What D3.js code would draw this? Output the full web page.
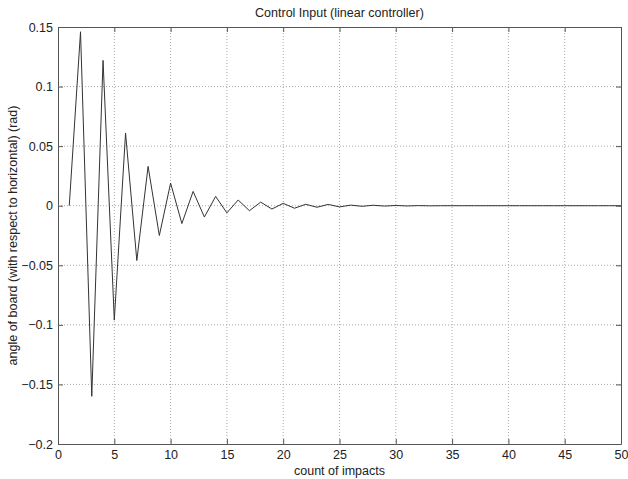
<!DOCTYPE html>
<html>
<head>
<meta charset="utf-8">
<script src="https://cdn.jsdelivr.net/npm/d3@7"></script>
<style>
  body { margin: 0; background: #fff; }
  text { font-family: "Liberation Sans", Arial, sans-serif; fill: #222; }
</style>
</head>
<body>
<svg id="chart"></svg>
<script>
// impact index and control angle (rad)
const impacts = d3.range(1, 51)
const angles = [
  0, 0.146, -0.160, 0.122, -0.096, 0.061, -0.046, 0.033, -0.025, 0.019,
  -0.015, 0.012, -0.0095, 0.0078, -0.006, 0.0048, -0.0042, 0.003, -0.0028, 0.002,
  -0.0021, 0.0012, -0.0013, 0.0011, -0.001, 0.0005, -0.0005, 0.0004, -0.0003, 0.0002,
  -0.0002, 0.0001, -0.0001, 0, 0, 0, 0, 0, 0, 0,
  0, 0, 0, 0, 0, 0, 0, 0, 0, 0
]
const xTicks = [0, 5, 10, 15, 20, 25, 30, 35, 40, 45, 50]
const yTicks = [-0.2, -0.15, -0.1, -0.05, 0, 0.05, 0.1, 0.15]

const fullWidth = 628
const fullHeight = 479
const margin = { top: 27, right: 7, bottom: 35, left: 58 }
const width = fullWidth - margin.left - margin.right
const height = fullHeight - margin.top - margin.bottom
const fontSize = '12.5px'

const data = impacts.map((x, i) => ({ x, y: angles[i] }))

const svg = d3.select('#chart')
  .attr('width', fullWidth)
  .attr('height', fullHeight)

const g = svg.append('g')
  .attr('transform', `translate(${margin.left}, ${margin.top})`)

const xScale = d3.scaleLinear().domain([0, 50]).range([0, width])
const yScale = d3.scaleLinear().domain([-0.2, 0.15]).range([height, 0])

// dotted grid
g.append('g')
  .selectAll('line')
  .data(xTicks.slice(1, -1))
  .enter().append('line')
    .attr('x1', d => xScale(d)).attr('x2', d => xScale(d))
    .attr('y1', 0).attr('y2', height)
    .attr('stroke', '#aaa').attr('stroke-dasharray', '1,2')

g.append('g')
  .selectAll('line')
  .data(yTicks.slice(1, -1))
  .enter().append('line')
    .attr('x1', 0).attr('x2', width)
    .attr('y1', d => yScale(d)).attr('y2', d => yScale(d))
    .attr('stroke', '#aaa').attr('stroke-dasharray', '1,2')

// data line
const line = d3.line()
  .x(d => xScale(d.x))
  .y(d => yScale(d.y))

g.append('path')
  .datum(data)
  .attr('fill', 'none')
  .attr('stroke', '#333')
  .attr('stroke-width', 1)
  .attr('d', line)

// axes, MATLAB style with inward ticks
const fmt = d => d3.format('')(+d.toFixed(2))
const axisColor = '#555'

const xBottom = g.append('g')
  .attr('transform', `translate(0, ${height})`)
  .call(d3.axisBottom(xScale).tickValues(xTicks).tickSizeInner(-5).tickSizeOuter(0).tickPadding(6))
const xTop = g.append('g')
  .call(d3.axisTop(xScale).tickValues(xTicks).tickSizeInner(-5).tickSizeOuter(0).tickFormat(''))
const yLeft = g.append('g')
  .call(d3.axisLeft(yScale).tickValues(yTicks).tickSizeInner(-5).tickSizeOuter(0).tickPadding(5).tickFormat(fmt))
const yRight = g.append('g')
  .attr('transform', `translate(${width}, 0)`)
  .call(d3.axisRight(yScale).tickValues(yTicks).tickSizeInner(-5).tickSizeOuter(0).tickFormat(''))

;[xBottom, xTop, yLeft, yRight].forEach(a => {
  a.selectAll('path, line').attr('stroke', axisColor)
  a.selectAll('text')
    .attr('font-size', fontSize)
    .attr('fill', '#222')
    .attr('font-family', '"Liberation Sans", Arial, sans-serif')
})

// titles
svg.append('text')
  .attr('x', margin.left + width / 2)
  .attr('y', 17)
  .attr('text-anchor', 'middle')
  .attr('font-size', fontSize)
  .text('Control Input (linear controller)')

svg.append('text')
  .attr('x', margin.left + width / 2)
  .attr('y', 475)
  .attr('text-anchor', 'middle')
  .attr('font-size', fontSize)
  .text('count of impacts')

svg.append('text')
  .attr('transform', `translate(17, ${margin.top + height / 2}) rotate(-90)`)
  .attr('text-anchor', 'middle')
  .attr('font-size', fontSize)
  .text('angle of board (with respect to horizontal) (rad)')
</script>
</body>
</html>
